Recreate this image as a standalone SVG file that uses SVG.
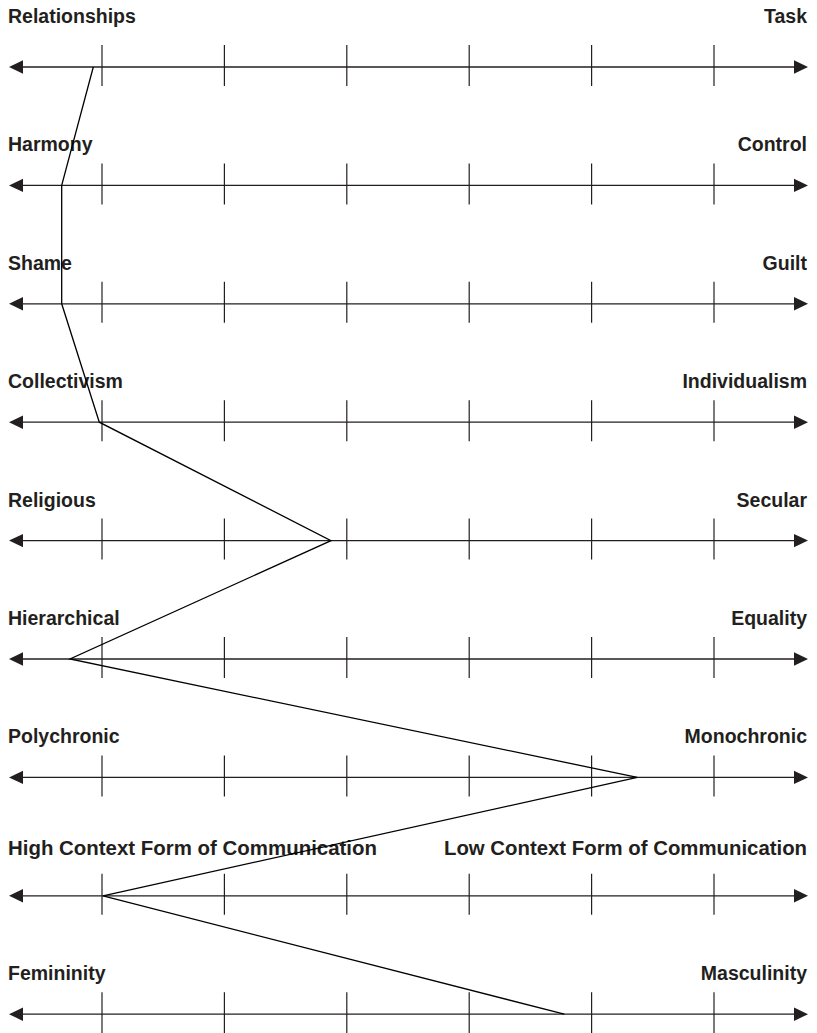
<svg xmlns="http://www.w3.org/2000/svg" width="817" height="1033" viewBox="0 0 817 1033">
<style>
.lbl{font-family:"Liberation Sans",Arial,sans-serif;font-weight:bold;font-size:19.5px;fill:#231f20}
.r{text-anchor:end}
.axis{stroke:#231f20;stroke-width:1.3;fill:none}
.tick{stroke:#231f20;stroke-width:1.2}
.head{fill:#231f20}
.profile{stroke:#000;stroke-width:1.3;fill:none;stroke-linejoin:miter}
</style>
<defs>
<g id="scale">
<line class="axis" x1="20" y1="0" x2="798" y2="0"/>
<polygon class="head" points="9,0 23,-6.7 23,6.7"/>
<polygon class="head" points="808,0 794,-6.7 794,6.7"/>
<line class="tick" x1="102" y1="-22" x2="102" y2="19"/>
<line class="tick" x1="224.4" y1="-22" x2="224.4" y2="19"/>
<line class="tick" x1="346.8" y1="-22" x2="346.8" y2="19"/>
<line class="tick" x1="469.2" y1="-22" x2="469.2" y2="19"/>
<line class="tick" x1="591.6" y1="-22" x2="591.6" y2="19"/>
<line class="tick" x1="714" y1="-22" x2="714" y2="19"/>
</g>
</defs>
<g id="scale1"><use href="#scale" x="0" y="67"/><text class="lbl" x="8" y="23">Relationships</text><text class="lbl r" x="807" y="23">Task</text></g>
<g id="scale2"><use href="#scale" x="0" y="185.4"/><text class="lbl" x="8" y="151.4">Harmony</text><text class="lbl r" x="807" y="151.4">Control</text></g>
<g id="scale3"><use href="#scale" x="0" y="303.8"/><text class="lbl" x="8" y="269.8">Shame</text><text class="lbl r" x="807" y="269.8">Guilt</text></g>
<g id="scale4"><use href="#scale" x="0" y="422.2"/><text class="lbl" x="8" y="388.2">Collectivism</text><text class="lbl r" x="807" y="388.2">Individualism</text></g>
<g id="scale5"><use href="#scale" x="0" y="540.6"/><text class="lbl" x="8" y="506.6">Religious</text><text class="lbl r" x="807" y="506.6">Secular</text></g>
<g id="scale6"><use href="#scale" x="0" y="659"/><text class="lbl" x="8" y="625">Hierarchical</text><text class="lbl r" x="807" y="625">Equality</text></g>
<g id="scale7"><use href="#scale" x="0" y="777.4"/><text class="lbl" x="8" y="743.4">Polychronic</text><text class="lbl r" x="807" y="743.4">Monochronic</text></g>
<g id="scale8"><use href="#scale" x="0" y="895.8"/><text class="lbl" x="8" y="855.3" textLength="369" lengthAdjust="spacingAndGlyphs">High Context Form of Communication</text><text class="lbl r" x="807" y="855.3" textLength="363" lengthAdjust="spacingAndGlyphs">Low Context Form of Communication</text></g>
<g id="scale9"><use href="#scale" x="0" y="1014.2"/><text class="lbl" x="8" y="980.2">Femininity</text><text class="lbl r" x="807" y="980.2">Masculinity</text></g>
<g id="connectors">
<polyline class="profile" points="93.3,67 61.7,185.4 61.7,303.8 99.3,422.2 331,540.6 70,659 637.3,777.4 103,895.8 564.3,1014.2"/>
</g>
</svg>
